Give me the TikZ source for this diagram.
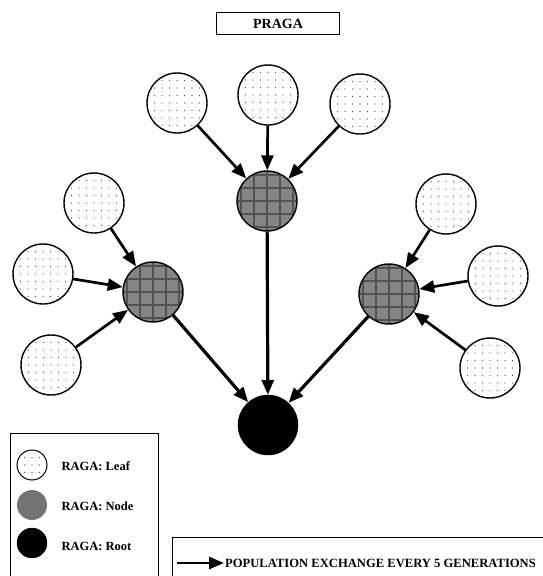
\documentclass[tikz,border=0pt]{standalone}
\usepackage{fontspec}
\setmainfont{Liberation Serif}
\usetikzlibrary{arrows.meta}

\begin{document}
\begin{tikzpicture}[x=1pt, y=-1pt,
  leaf/.style={circle, draw, line width=1.4pt, inner sep=0pt, minimum size=60pt, fill=white,
    path picture={\foreach \i in {-4,...,4} \foreach \j in {-4,...,4}
      \fill[black!70] ([shift={(\i*7.5pt,\j*7.5pt)}]path picture bounding box.center) circle (0.6pt);}},
  raganode/.style={circle, draw, line width=1.4pt, inner sep=0pt, minimum size=60pt, fill=black!48,
    path picture={\foreach \k in {-2,...,2} {
      \draw[black!68, line width=1.6pt] ([xshift=\k*13pt]path picture bounding box.north) -- ([xshift=\k*13pt]path picture bounding box.south);
      \draw[black!68, line width=1.6pt] ([yshift=\k*13pt]path picture bounding box.west) -- ([yshift=\k*13pt]path picture bounding box.east);}}},
  ragaroot/.style={circle, draw, fill=black, inner sep=0pt, minimum size=60pt},
  exch/.style={-{Triangle[length=15pt,width=12pt]}, line width=2.7pt},
  exchroot/.style={exch, line width=3.2pt},
  legtext/.style={anchor=west, font=\fontsize{12.5}{14}\selectfont\bfseries}
]
\useasboundingbox (0,0) rectangle (542,576);

% title
\node[draw, line width=0.8pt, minimum width=123pt, minimum height=22pt] (title) at (278,23.5)
  {\fontsize{14}{16}\selectfont\bfseries PRAGA};

% tree
\node[ragaroot] (r) at (268,425) {};
\node[raganode] (n1) at (153,292) {};
\node[raganode] (n2) at (267,201) {};
\node[raganode] (n3) at (389,294) {};
\node[leaf] (l1) at (177,103) {};
\node[leaf] (l2) at (268,95) {};
\node[leaf] (l3) at (360,104) {};
\node[leaf] (l4) at (94,203) {};
\node[leaf] (l5) at (43,274) {};
\node[leaf] (l6) at (51,365) {};
\node[leaf] (l7) at (446,204) {};
\node[leaf] (l8) at (498,276) {};
\node[leaf] (l9) at (490,368) {};

\draw[exch] (l1) -- (n2);
\draw[exch] (l2) -- (n2);
\draw[exch] (l3) -- (n2);
\draw[exch] (l4) -- (n1);
\draw[exch] (l5) -- (n1);
\draw[exch] (l6) -- (n1);
\draw[exch] (l7) -- (n3);
\draw[exch] (l8) -- (n3);
\draw[exch] (l9) -- (n3);
\draw[exchroot] (n1) -- (r);
\draw[exchroot] (n2) -- (r);
\draw[exchroot] (n3) -- (r);

% legend
\draw[line width=0.8pt] (10,580) -- (10,433) -- (158,433) -- (158,580);
\node[leaf, minimum size=30pt, line width=1pt] (kl) at (32,465) {};
\node[circle, inner sep=0pt, minimum size=30pt, fill=black!55] (kn) at (32,505) {};
\node[ragaroot, minimum size=30pt] (kr) at (32,543) {};
\node[legtext] (tl) at (58,466) {RAGA: Leaf};
\node[legtext] (tn) at (58,506) {RAGA: Node};
\node[legtext] (tr) at (58,546) {RAGA: Root};

% exchange note
\draw[line width=0.8pt] (172,580) -- (172,537) -- (545,537);
\coordinate (a0) at (177,563);
\node[anchor=west, inner sep=1pt, font=\fontsize{12.6}{14}\selectfont\bfseries] (ex) at (224,563)
  {POPULATION EXCHANGE EVERY 5 GENERATIONS};
\draw[exch] (a0) -- (ex.west);
\end{tikzpicture}
\end{document}
